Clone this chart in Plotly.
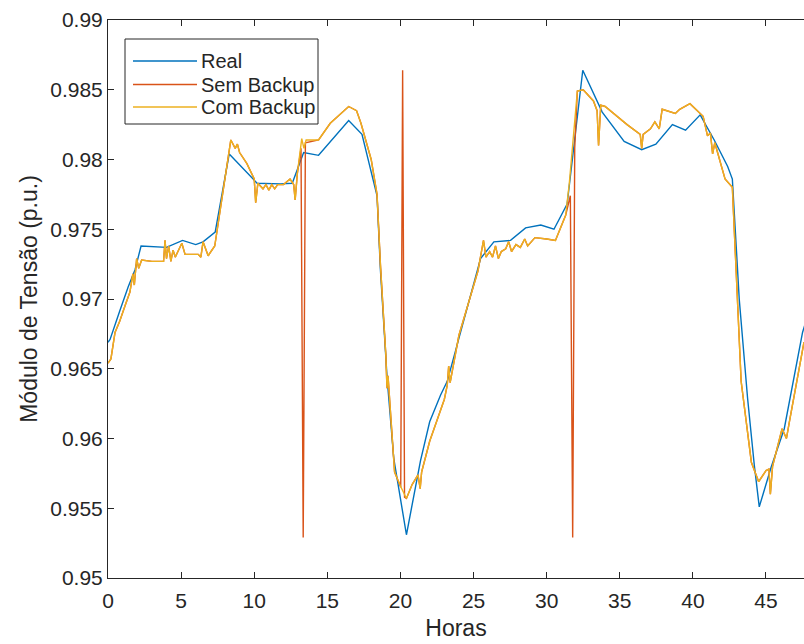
import plotly.graph_objects as go

# ---------------- data ----------------
real_hours = [0.0, 0.14, 0.82, 1.39, 1.85, 2.26, 4.0, 5.1, 6.0, 6.5, 7.33, 8.29, 10.2, 11.8, 12.6,
              13.38, 14.4, 16.46, 17.37, 18.4, 18.63, 19.09, 19.54, 20.41, 21.37, 22.0, 22.74, 23.2,
              25.48, 26.39, 27.53, 28.56, 29.6, 30.5, 31.4, 32.47, 33.8, 35.3, 36.5, 37.47, 38.6,
              39.5, 40.5, 41.46, 42.38, 42.7, 43.17, 43.74, 44.2, 44.54, 45.34, 46.25, 47.5, 47.7]
real_values = [0.9669, 0.9671, 0.9692, 0.9709, 0.9721, 0.9738, 0.9737, 0.9742, 0.9739, 0.9741, 0.9748,
               0.9804, 0.9783, 0.97825, 0.9783, 0.9805, 0.9803, 0.9828, 0.9818, 0.9774, 0.9721, 0.9643,
               0.9586, 0.9531, 0.9584, 0.9612, 0.9631, 0.9641, 0.9729, 0.9741, 0.9742, 0.9751, 0.9753,
               0.9750, 0.9768, 0.9864, 0.9834, 0.9813, 0.9807, 0.9811, 0.9825, 0.9821, 0.9832, 0.9814,
               0.9795, 0.9786, 0.9700, 0.9629, 0.9581, 0.9551, 0.9579, 0.9607, 0.9676, 0.9683]

com_hours = [0.0, 0.2, 0.48, 0.8, 1.16, 1.5, 1.7, 1.8, 1.96, 2.1, 2.3, 3.0, 3.8, 3.9, 4.0, 4.15, 4.3,
             4.45, 4.6, 5.05, 5.27, 6.17, 6.35, 6.5, 6.85, 7.3, 8.4, 8.7, 8.85, 9.0, 9.5, 10.0, 10.1,
             10.25, 10.6, 10.8, 11.0, 11.2, 11.4, 11.6, 12.0, 12.45, 12.7, 12.8, 12.95, 13.05, 13.25,
             13.4, 13.55, 14.4, 15.2, 16.46, 17.0, 17.3, 17.6, 18.0, 18.4, 18.63, 19.0, 19.08, 19.15,
             19.6, 20.0, 20.41, 20.8, 21.2, 21.35, 21.45, 22.0, 22.5, 23.0, 23.2, 23.3, 23.4, 24.0,
             25.3, 25.6, 25.68, 25.85, 26.1, 26.3, 26.5, 26.7, 26.9, 27.2, 27.4, 27.6, 27.9, 28.2,
             28.5, 28.7, 29.2, 30.0, 30.6, 31.3, 31.55, 32.1, 32.5, 33.2, 33.45, 33.55, 33.7, 34.0,
             35.5, 36.4, 36.5, 36.6, 37.1, 37.4, 37.7, 37.9, 38.8, 39.1, 39.8, 40.7, 41.0, 41.2,
             41.35, 41.5, 41.9, 42.2, 42.7, 43.3, 44.0, 44.5, 45.0, 45.2, 45.3, 45.45, 46.1, 46.4,
             46.6, 47.6]
com_values = [0.9654, 0.9657, 0.9676, 0.9684, 0.9695, 0.9705, 0.9718, 0.9710, 0.9729, 0.9722, 0.9728,
              0.9727, 0.9727, 0.9742, 0.9729, 0.9738, 0.9727, 0.9735, 0.9730, 0.9740, 0.9732, 0.9732,
              0.9730, 0.9741, 0.9731, 0.9738, 0.9814, 0.9808, 0.9811, 0.9805, 0.9797, 0.9786, 0.9769,
              0.9783, 0.9779, 0.9782, 0.9778, 0.9782, 0.9779, 0.9782, 0.9782, 0.9786, 0.9782, 0.9771,
              0.9790, 0.9798, 0.9815, 0.9808, 0.9814, 0.9814, 0.9826, 0.9838, 0.9835, 0.9826, 0.9815,
              0.9800, 0.9775, 0.9725, 0.9660, 0.9636, 0.9645, 0.9576, 0.9566, 0.9557, 0.9567, 0.9574,
              0.9564, 0.9576, 0.9598, 0.9613, 0.9628, 0.9638, 0.9652, 0.9640, 0.9674, 0.9720, 0.9738,
              0.9742, 0.9730, 0.9734, 0.9730, 0.9738, 0.9729, 0.9734, 0.9736, 0.9741, 0.9734, 0.9739,
              0.9737, 0.9743, 0.9738, 0.9744, 0.9743, 0.9742, 0.9760, 0.9783, 0.9849, 0.9850, 0.9842,
              0.9835, 0.9810, 0.9839, 0.9838, 0.9825, 0.9818, 0.9808, 0.9818, 0.9822, 0.9827, 0.9822,
              0.9836, 0.9833, 0.9836, 0.9840, 0.9831, 0.9817, 0.9819, 0.9804, 0.9812, 0.9796, 0.9786,
              0.9780, 0.9641, 0.9583, 0.9569, 0.9577, 0.9578, 0.9560, 0.9580, 0.9607, 0.9600, 0.9612,
              0.9669]

sem_hours = [0.0, 0.2, 0.48, 0.8, 1.16, 1.5, 1.7, 1.8, 1.96, 2.1, 2.3, 3.0, 3.8, 3.9, 4.0, 4.15, 4.3,
             4.45, 4.6, 5.05, 5.27, 6.17, 6.35, 6.5, 6.85, 7.3, 8.4, 8.7, 8.85, 9.0, 9.5, 10.0, 10.1,
             10.25, 10.6, 10.8, 11.0, 11.2, 11.4, 11.6, 12.0, 12.45, 12.7, 12.8, 12.95, 13.05, 13.2,
             13.35, 13.5, 14.4, 15.2, 16.46, 17.0, 17.3, 17.6, 18.0, 18.4, 18.63, 19.0, 19.08, 19.15,
             19.6, 20.02, 20.15, 20.28, 20.41, 20.8, 21.2, 21.35, 21.45, 22.0, 22.5, 23.0, 23.2, 23.3,
             23.4, 24.0, 25.3, 25.6, 25.68, 25.85, 26.1, 26.3, 26.5, 26.7, 26.9, 27.2, 27.4, 27.6,
             27.9, 28.2, 28.5, 28.7, 29.2, 30.0, 30.6, 31.3, 31.62, 31.78, 31.92, 32.1, 32.5, 33.2,
             33.45, 33.55, 33.7, 34.0, 35.5, 36.4, 36.5, 36.6, 37.1, 37.4, 37.7, 37.9, 38.8, 39.1,
             39.8, 40.7, 41.0, 41.2, 41.35, 41.5, 41.9, 42.2, 42.7, 43.3, 44.0, 44.5, 45.0, 45.2,
             45.3, 45.45, 46.1, 46.4, 46.6, 47.6]
sem_values = [0.9654, 0.9657, 0.9676, 0.9684, 0.9695, 0.9705, 0.9718, 0.9710, 0.9729, 0.9722, 0.9728,
              0.9727, 0.9727, 0.9742, 0.9729, 0.9738, 0.9727, 0.9735, 0.9730, 0.9740, 0.9732, 0.9732,
              0.9730, 0.9741, 0.9731, 0.9738, 0.9814, 0.9808, 0.9811, 0.9805, 0.9797, 0.9786, 0.9769,
              0.9783, 0.9779, 0.9782, 0.9778, 0.9782, 0.9779, 0.9782, 0.9782, 0.9786, 0.9782, 0.9771,
              0.9790, 0.9798, 0.9808, 0.9529, 0.9812, 0.9814, 0.9826, 0.9838, 0.9835, 0.9826, 0.9815,
              0.9800, 0.9775, 0.9725, 0.9660, 0.9636, 0.9645, 0.9576, 0.9565, 0.9864, 0.9558, 0.9557,
              0.9567, 0.9574, 0.9564, 0.9576, 0.9598, 0.9613, 0.9628, 0.9638, 0.9652, 0.9640, 0.9674,
              0.9720, 0.9738, 0.9742, 0.9730, 0.9734, 0.9730, 0.9738, 0.9729, 0.9734, 0.9736, 0.9741,
              0.9734, 0.9739, 0.9737, 0.9743, 0.9738, 0.9744, 0.9743, 0.9742, 0.9760, 0.9774, 0.9529,
              0.9808, 0.9849, 0.9850, 0.9842, 0.9835, 0.9810, 0.9839, 0.9838, 0.9825, 0.9818, 0.9808,
              0.9818, 0.9822, 0.9827, 0.9822, 0.9836, 0.9833, 0.9836, 0.9840, 0.9831, 0.9817, 0.9819,
              0.9804, 0.9812, 0.9796, 0.9786, 0.9780, 0.9641, 0.9583, 0.9569, 0.9577, 0.9578, 0.9560,
              0.9580, 0.9607, 0.9600, 0.9612, 0.9669]

series_names = ["Real", "Sem Backup", "Com Backup"]
series_colors = ["#0072BD", "#D95319", "#EDB120"]

x_ticks = [0, 5, 10, 15, 20, 25, 30, 35, 40, 45]
y_ticks = [0.95, 0.955, 0.96, 0.965, 0.97, 0.975, 0.98, 0.985, 0.99]
y_tick_text = ["0.95", "0.955", "0.96", "0.965", "0.97", "0.975", "0.98", "0.985", "0.99"]

# ---------------- figure ----------------
FONT = "Liberation Sans, Arial, sans-serif"
AX = "#262626"

fig = go.Figure()
for name, color, hx, vy in zip(series_names, series_colors,
                               [real_hours, sem_hours, com_hours],
                               [real_values, sem_values, com_values]):
    fig.add_trace(go.Scatter(x=hx, y=vy, mode="lines", name=name,
                             line=dict(color=color, width=1.4), showlegend=False))

# MATLAB-like legend box (pixel layout converted to paper fractions)
L, W, T, H = 108, 696, 20, 558
def px(x):
    return (x - L) / W
def py(y):
    return 1 - (y - T) / H

shapes = [dict(type="rect", xref="paper", yref="paper", x0=px(125), x1=px(318), y0=py(124), y1=py(39),
               line=dict(color=AX, width=1), fillcolor="white", layer="above")]
annotations = []
legend_y = [61, 84.5, 107]
for name, color, yy in zip(series_names, series_colors, legend_y):
    shapes.append(dict(type="line", xref="paper", yref="paper", x0=px(133), x1=px(197), y0=py(yy), y1=py(yy),
                       line=dict(color=color, width=1.4), layer="above"))
    annotations.append(dict(text=name, xref="paper", yref="paper", x=px(199), y=py(yy), xanchor="left",
                            yanchor="middle", showarrow=False, font=dict(family=FONT, size=20, color=AX)))

fig.update_layout(
    width=804, height=644,
    margin=dict(l=L, r=0, t=T, b=644 - T - H),
    paper_bgcolor="white", plot_bgcolor="white",
    font=dict(family=FONT, color=AX),
    shapes=shapes, annotations=annotations,
)
fig.update_xaxes(range=[0, 47.6], tickvals=x_ticks, ticks="inside", ticklen=6, tickcolor=AX,
                 showline=True, linecolor=AX, linewidth=1, mirror="ticks", showgrid=False, zeroline=False,
                 tickfont=dict(size=21, color=AX), ticklabelstandoff=4,
                 title=dict(text="Horas", font=dict(size=23, color=AX), standoff=8))
fig.update_yaxes(range=[0.95, 0.99], tickvals=y_ticks, ticktext=y_tick_text, ticks="inside", ticklen=6,
                 tickcolor=AX, showline=True, linecolor=AX, linewidth=1, mirror=False, showgrid=False,
                 zeroline=False, tickfont=dict(size=21, color=AX),
                 title=dict(text="Módulo de Tensão (p.u.)", font=dict(size=23, color=AX), standoff=6))

fig.write_html("out.html")
